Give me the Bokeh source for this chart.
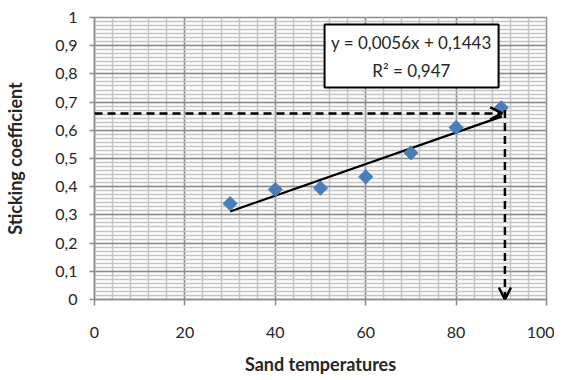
import math
from bokeh.plotting import figure
from bokeh.models import (FixedTicker, CustomJSTickFormatter, Label, Arrow, OpenHead,
                          ColumnDataSource, Range1d, Title)
from bokeh.embed import file_html
from bokeh.resources import INLINE

# ---- data ----
sand_temperature = [30, 40, 50, 60, 70, 80, 90]
sticking_coefficient = [0.34, 0.39, 0.395, 0.435, 0.52, 0.61, 0.68]
fit_slope = 0.0056
fit_intercept = 0.1443
fit_x = [30, 90.2]
equation_text = "y = 0,0056x + 0,1443"
r2_text = "R\u00b2 = 0,947"
target_x = 90.8
target_y = 0.66
x_ticks = [0, 20, 40, 60, 80, 100]
y_ticks = [round(i * 0.1, 1) for i in range(11)]

FONT = "Lato"
TXT = "#262626"

p = figure(frame_width=452, frame_height=282, width=554, height=371,
           min_border_left=94, min_border_right=8, min_border_top=17, min_border_bottom=72,
           x_range=Range1d(0, 100), y_range=Range1d(0, 1),
           output_backend="svg", toolbar_location=None)
p.outline_line_color = "#8c8c8c"
p.outline_line_width = 1.5

# tickers
x_minor = [i * 4 for i in range(26)]
y_minor = [i / 70 for i in range(71)]
p.xaxis.ticker = FixedTicker(ticks=x_ticks, minor_ticks=x_minor)
p.yaxis.ticker = FixedTicker(ticks=y_ticks, minor_ticks=y_minor)
p.yaxis.formatter = CustomJSTickFormatter(
    code="return (Math.round(tick*10)/10).toString().replace('.', ',');")

for ax in (p.xaxis, p.yaxis):
    ax.axis_line_color = "#8c8c8c"
    ax.axis_line_width = 1.5
    ax.major_tick_line_color = "#8c8c8c"
    ax.major_tick_line_width = 1.5
    ax.major_tick_in = 0
    ax.minor_tick_out = 0
    ax.minor_tick_in = 0
    ax.major_label_text_font = FONT
    ax.major_label_text_font_size = "16px"
    ax.major_label_text_color = TXT
p.xaxis.major_tick_out = 6
p.yaxis.major_tick_out = 5
p.xaxis.major_label_standoff = 21
p.yaxis.major_label_standoff = 12

p.yaxis.axis_label = "Sticking coefficient"
p.yaxis.axis_label_text_font = FONT
p.yaxis.axis_label_text_font_size = "18px"
p.yaxis.axis_label_text_font_style = "bold"
p.yaxis.axis_label_text_color = TXT
p.yaxis.axis_label_standoff = 26

p.add_layout(Title(text="Sand temperatures", align="center", offset=17,
                   text_font=FONT, text_font_size="18px", text_font_style="bold",
                   text_color=TXT, standoff=20), "below")

# grid
for g in (p.xgrid, p.ygrid):
    g.grid_line_color = "#8c8c8c"
    g.grid_line_width = 1.5
    g.minor_grid_line_color = "#c4c4c4"
    g.minor_grid_line_width = 1.5

# trendline
fit_y = [fit_slope * x + fit_intercept for x in fit_x]
p.line(fit_x, fit_y, line_color="black", line_width=2.2)

# dashed arrows
p.add_layout(Arrow(x_start=0, y_start=target_y, x_end=target_x - 0.6, y_end=target_y,
                   line_color="black", line_width=2.5, line_dash="8 5",
                   end=OpenHead(size=12, line_width=2.5, line_color="black")))
p.add_layout(Arrow(x_start=target_x, y_start=0.672, x_end=target_x, y_end=0,
                   line_color="black", line_width=2.5, line_dash="8 5",
                   end=OpenHead(size=12, line_width=2.5, line_color="black")))

# data points
src = ColumnDataSource(dict(x=sand_temperature, y=sticking_coefficient))
p.scatter("x", "y", source=src, marker="square", angle=math.pi / 4, size=10,
          fill_color="#4a7ebb", line_color="#4a7ebb")

# equation box
p.quad(left=[50.9], right=[89.4], bottom=[0.752], top=[0.975],
       fill_color="white", line_color="black", line_width=2)
p.add_layout(Label(x=70.1, y=0.911, text=equation_text, text_align="center",
                   text_baseline="middle", text_font=FONT, text_font_size="17px",
                   text_color=TXT))
p.add_layout(Label(x=70.1, y=0.812, text=r2_text, text_align="center",
                   text_baseline="middle", text_font=FONT, text_font_size="17px",
                   text_color=TXT))

open("out.html", "w").write(file_html(p, INLINE))
